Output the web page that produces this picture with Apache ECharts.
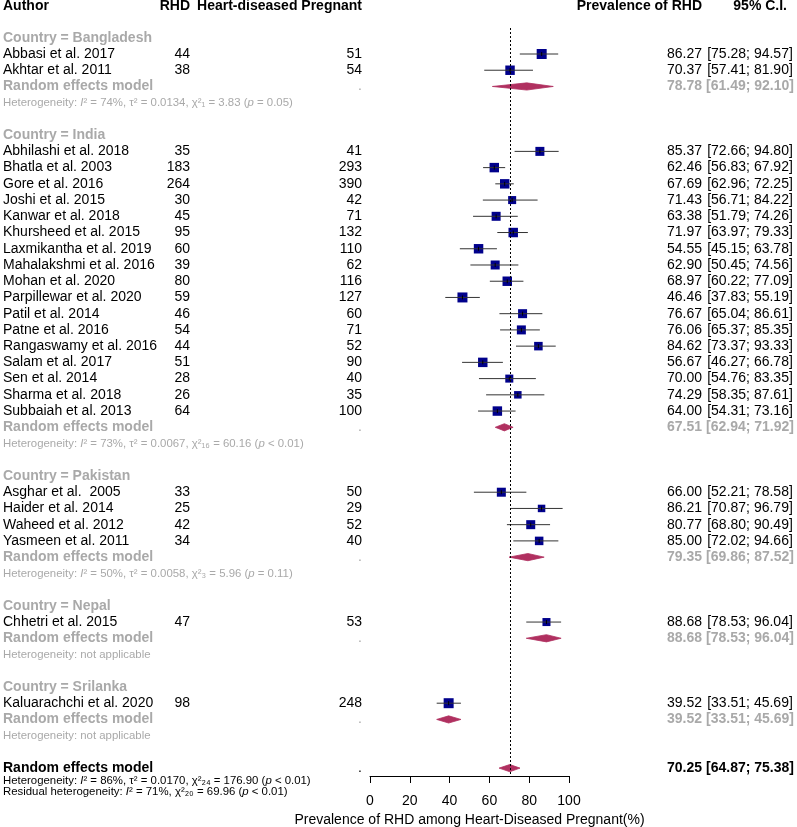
<!DOCTYPE html>
<html><head><meta charset="utf-8">
<script src="https://cdn.jsdelivr.net/npm/echarts@6/dist/echarts.min.js"></script>
<style>html,body{margin:0;padding:0;background:#fff}#c{width:797px;height:827px}</style>
</head><body><div id="c"></div>
<script>
// ---------------- DATA ----------------
const headers = ['Author', 'RHD', 'Heart-diseased Pregnant', 'Prevalence of RHD', '95% C.I.'];
const groups = ['Bangladesh', 'India', 'Pakistan', 'Nepal', 'Srilanka'];
const authors = [
  'Abbasi et al. 2017', 'Akhtar et al. 2011',
  'Abhilashi et al. 2018', 'Bhatla et al. 2003', 'Gore et al. 2016', 'Joshi et al. 2015',
  'Kanwar et al. 2018', 'Khursheed et al. 2015', 'Laxmikantha et al. 2019', 'Mahalakshmi et al. 2016',
  'Mohan et al. 2020', 'Parpillewar et al. 2020', 'Patil et al. 2014', 'Patne et al. 2016',
  'Rangaswamy et al. 2016', 'Salam et al. 2017', 'Sen et al. 2014', 'Sharma et al. 2018', 'Subbaiah et al. 2013',
  'Asghar et al.  2005', 'Haider et al. 2014', 'Waheed et al. 2012', 'Yasmeen et al. 2011',
  'Chhetri et al. 2015',
  'Kaluarachchi et al. 2020'
];
const groupOf = [0,0, 1,1,1,1,1,1,1,1,1,1,1,1,1,1,1,1,1, 2,2,2,2, 3, 4];
const rhd = [44,38, 35,183,264,30,45,95,60,39,80,59,46,54,44,51,28,26,64, 33,25,42,34, 47, 98];
const pregnant = [51,54, 41,293,390,42,71,132,110,62,116,127,60,71,52,90,40,35,100, 50,29,52,40, 53, 248];
const prevalence = [86.27,70.37, 85.37,62.46,67.69,71.43,63.38,71.97,54.55,62.90,68.97,46.46,76.67,76.06,84.62,56.67,70.00,74.29,64.00, 66.00,86.21,80.77,85.00, 88.68, 39.52];
const ciLower = [75.28,57.41, 72.66,56.83,62.96,56.71,51.79,63.97,45.15,50.45,60.22,37.83,65.04,65.37,73.37,46.27,54.76,58.35,54.31, 52.21,70.87,68.80,72.02, 78.53, 33.51];
const ciUpper = [94.57,81.90, 94.80,67.92,72.25,84.22,74.26,79.33,63.78,74.56,77.09,55.19,86.61,85.35,93.33,66.78,83.35,87.61,73.16, 78.58,96.79,90.49,94.66, 96.04, 45.69];
// estimated relative study weights (%), read from square sizes
const weights = [4.8,4.3, 3.9,4.3,4.3,3.1,3.9,4.3,4.3,3.9,4.3,4.8,3.9,3.9,3.5,4.3,3.1,2.7,4.3, 3.9,2.7,3.9,3.5, 3.1, 4.8];
const subPrev = [78.78, 67.51, 79.35, 88.68, 39.52];
const subLower = [61.49, 62.94, 69.86, 78.53, 33.51];
const subUpper = [92.10, 71.92, 87.52, 96.04, 45.69];
const subHet = [
  'Heterogeneity: {i|I}² = 74%, τ² = 0.0134, χ²₁ = 3.83 ({i|p} = 0.05)',
  'Heterogeneity: {i|I}² = 73%, τ² = 0.0067, χ²₁₆ = 60.16 ({i|p} < 0.01)',
  'Heterogeneity: {i|I}² = 50%, τ² = 0.0058, χ²₃ = 5.96 ({i|p} = 0.11)',
  'Heterogeneity: not applicable',
  'Heterogeneity: not applicable'
];
const overallPrev = 70.25, overallLower = 64.87, overallUpper = 75.38;
const overallHet = 'Heterogeneity: {i|I}² = 86%, τ² = 0.0170, χ²₂₄ = 176.90 ({i|p} < 0.01)';
const residualHet = 'Residual heterogeneity: {i|I}² = 71%, χ²₂₀ = 69.96 ({i|p} < 0.01)';
const xTicks = [0, 20, 40, 60, 80, 100];
const xTitle = 'Prevalence of RHD among Heart-Diseased Pregnant(%)';

// ---------------- LAYOUT ----------------
const FONT = '"Liberation Sans", Arial, sans-serif';
const GRAY = '#A9A9A9';
const ROW0 = 54, ROWH = 16.23, H = 827;
const COL = {author: 3, rhd: 190, preg: 362, prev: 702, ci: 750, ciHead: 787};

const texts = [];   // {x,row,text,align,bold,color,size}
function T(x, row, text, align, bold, color, size) { texts.push({x, row, text, align, bold, color, size}); }
const fmt = v => v.toFixed(2);
const ci = (a, b) => '[' + fmt(a) + '; ' + fmt(b) + ']';

T(COL.author, -2.94, headers[0], 'left', true, '#000', 14);
T(COL.rhd, -2.94, headers[1], 'right', true, '#000', 14);
T(COL.preg, -2.94, headers[2], 'right', true, '#000', 14);
T(COL.prev, -2.94, headers[3], 'right', true, '#000', 14);
T(COL.ciHead, -2.94, headers[4], 'right', true, '#000', 14);

const studyRows = [], subRows = [];
let r = -1;
groups.forEach((g, gi) => {
  T(COL.author, r, 'Country = ' + g, 'left', true, GRAY, 14); r++;
  authors.forEach((a, i) => {
    if (groupOf[i] !== gi) return;
    studyRows[i] = r;
    T(COL.author, r, a, 'left', false, '#000', 14);
    T(COL.rhd, r, String(rhd[i]), 'right', false, '#000', 14);
    T(COL.preg, r, String(pregnant[i]), 'right', false, '#000', 14);
    T(COL.prev, r, fmt(prevalence[i]), 'right', false, '#000', 14);
    T(COL.ci, r, ci(ciLower[i], ciUpper[i]), 'center', false, '#000', 14);
    r++;
  });
  subRows[gi] = r;
  T(COL.author, r, 'Random effects model', 'left', true, GRAY, 14);
  T(COL.preg, r, '.', 'right', false, GRAY, 14);
  T(COL.prev, r, fmt(subPrev[gi]), 'right', true, GRAY, 14);
  T(COL.ci, r, ci(subLower[gi], subUpper[gi]), 'center', true, GRAY, 14);
  r++;
  T(COL.author, r, subHet[gi], 'left', false, GRAY, 11.4);
  r += 2;
});
const overallRow = r;
T(COL.author, overallRow, 'Random effects model', 'left', true, '#000', 14);
T(COL.preg, overallRow, '.', 'right', false, '#000', 14);
T(COL.prev, overallRow, fmt(overallPrev), 'right', true, '#000', 14);
T(COL.ci, overallRow, ci(overallLower, overallUpper), 'center', true, '#000', 14);
T(COL.author, overallRow + 0.76, overallHet, 'left', false, '#000', 11.4);
T(COL.author, overallRow + 1.44, residualHet, 'left', false, '#000', 11.4);

const PLOT_TOP = 28, PLOT_BOTTOM = 776;
const y1min = -(ROW0 - PLOT_TOP) / ROWH, y1max = (PLOT_BOTTOM - ROW0) / ROWH;
const y0min = -ROW0 / ROWH, y0max = (H - ROW0) / ROWH;

const studyData = authors.map((a, i) => [ciLower[i], ciUpper[i], prevalence[i], studyRows[i], weights[i]]);
const diamondData = groups.map((g, gi) => [subLower[gi], subUpper[gi], subPrev[gi], subRows[gi]]);
diamondData.push([overallLower, overallUpper, overallPrev, overallRow]);

const chart = echarts.init(document.getElementById('c'));
chart.setOption({
  animation: false,
  backgroundColor: '#fff',
  grid: [
    {left: 0, top: 0, width: 797, height: H, outerBoundsMode: 'none'},
    {left: 370, top: PLOT_TOP, width: 199, height: PLOT_BOTTOM - PLOT_TOP, outerBoundsMode: 'none', containLabel: false}
  ],
  xAxis: [
    {gridIndex: 0, type: 'value', min: 0, max: 797, show: false},
    {gridIndex: 1, type: 'value', position: 'bottom', min: xTicks[0], max: xTicks[xTicks.length - 1], interval: xTicks[1] - xTicks[0],
     axisLine: {show: true, onZero: false, lineStyle: {color: '#000', width: 1}},
     axisTick: {show: true, length: 7, lineStyle: {color: '#000', width: 1}},
     axisLabel: {fontSize: 14, color: '#000', fontFamily: FONT, margin: 18},
     splitLine: {show: false},
     name: xTitle, nameLocation: 'middle', nameGap: 37,
     nameTextStyle: {fontSize: 14, color: '#000', fontFamily: FONT}}
  ],
  yAxis: [
    {gridIndex: 0, type: 'value', inverse: true, min: y0min, max: y0max, show: false},
    {gridIndex: 1, type: 'value', inverse: true, min: y1min, max: y1max, show: false}
  ],
  series: [
    {
      type: 'custom', xAxisIndex: 1, yAxisIndex: 1, data: diamondData, silent: true,
      renderItem: (p, api) => {
        const lo = api.coord([api.value(0), api.value(3)]);
        const hi = api.coord([api.value(1), api.value(3)]);
        const c = api.coord([api.value(2), api.value(3)]);
        const h = 3.6;
        return {type: 'polygon', shape: {points: [[lo[0], lo[1]], [c[0], c[1] - h], [hi[0], hi[1]], [c[0], c[1] + h]]},
          style: {fill: '#B03060', stroke: '#B03060', lineWidth: 0.8}};
      },
      markLine: {silent: true, symbol: 'none', label: {show: false},
        lineStyle: {type: [2, 2], color: '#000', width: 1},
        data: [{xAxis: overallPrev}]}
    },
    {
      type: 'custom', xAxisIndex: 1, yAxisIndex: 1, data: studyData, silent: true,
      renderItem: (p, api) => {
        const lo = api.coord([api.value(0), api.value(3)]);
        const hi = api.coord([api.value(1), api.value(3)]);
        const c = api.coord([api.value(2), api.value(3)]);
        const s = 4.56 * Math.sqrt(api.value(4));
        return {type: 'group', children: [
          {type: 'rect', shape: {x: c[0] - s / 2, y: c[1] - s / 2, width: s, height: s}, style: {fill: '#00008B'}},
          {type: 'line', shape: {x1: lo[0], y1: lo[1], x2: hi[0], y2: hi[1]}, style: {stroke: '#333', lineWidth: 1}},
          {type: 'line', shape: {x1: c[0], y1: c[1] - 2, x2: c[0], y2: c[1] + 2}, style: {stroke: '#000', lineWidth: 1}}
        ]};
      }
    },
    {
      type: 'custom', xAxisIndex: 0, yAxisIndex: 0, silent: true,
      data: texts.map(t => [t.x, t.row]),
      renderItem: (p, api) => {
        const t = texts[p.dataIndex];
        const pt = api.coord([t.x, t.row]);
        return {type: 'text', x: pt[0], y: pt[1], style: {
          text: t.text, fill: t.color, align: t.align, verticalAlign: 'middle',
          font: (t.bold ? 'bold ' : '') + t.size + 'px ' + FONT,
          rich: {i: {fontStyle: 'italic', fontSize: t.size, fontFamily: FONT, fill: t.color, color: t.color}}
        }};
      }
    }
  ]
});
</script></body></html>
